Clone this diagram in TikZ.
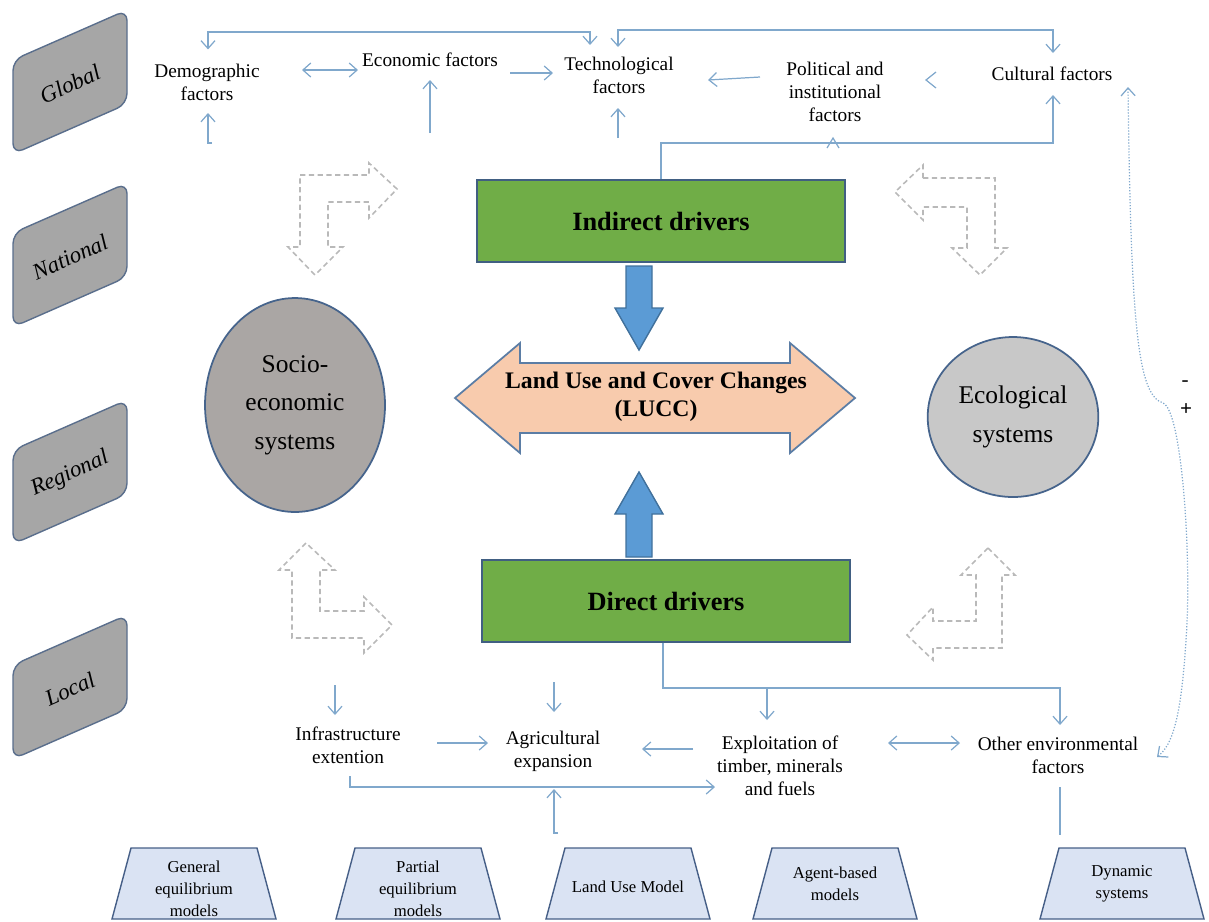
\documentclass[tikz,border=0pt]{standalone}
\usepackage{fontspec}
\setmainfont{Liberation Serif}
\usetikzlibrary{arrows.meta,shapes.geometric}

\definecolor{linkblue}{RGB}{128,168,204}
\definecolor{levelgray}{RGB}{166,166,166}
\definecolor{levelborder}{RGB}{90,110,140}
\definecolor{drvgreen}{RGB}{112,173,71}
\definecolor{drvborder}{RGB}{65,95,130}
\definecolor{luccfill}{RGB}{248,203,173}
\definecolor{luccborder}{RGB}{91,125,165}
\definecolor{arrowblue}{RGB}{91,155,213}
\definecolor{arrowborder}{RGB}{65,113,156}
\definecolor{sociofill}{RGB}{170,166,164}
\definecolor{ecofill}{RGB}{200,200,200}
\definecolor{sysborder}{RGB}{70,100,140}
\definecolor{modelfill}{RGB}{218,227,243}
\definecolor{modelborder}{RGB}{70,95,135}

\begin{document}
\begin{tikzpicture}[x=0.02cm, y=-0.02cm,
    link/.style={draw=linkblue, line width=0.7pt, >={Straight Barb[length=4.5pt,width=8pt]}},
    factor/.style={font=\fontsize{11}{13}\selectfont, align=center, inner sep=0pt},
    driver/.style={draw=drvborder, fill=drvgreen, line width=0.8pt, minimum width=7.36cm,
      minimum height=1.64cm, font=\fontsize{15}{17}\selectfont\bfseries},
    system/.style={ellipse, draw=sysborder, line width=1pt, align=center, font=\fontsize{14.5}{22}\selectfont},
    level/.style={fill=levelgray, draw=levelborder, line width=0.8pt, rounded corners=6pt},
    leveltext/.style={font=\fontsize{13}{15}\selectfont\itshape, rotate=24},
    bent/.style={draw=gray!55, line width=0.9pt, dash pattern=on 3pt off 2pt},
    block/.style={fill=arrowblue, draw=arrowborder, line width=0.8pt},
    modelshape/.style={fill=modelfill, draw=modelborder, line width=0.8pt},
    model/.style={font=\fontsize{9.5}{12.5}\selectfont, align=center}]
  \useasboundingbox (0,0) rectangle (1209,921);

  % Scale of the drivers
  \draw[level] (13,60) -- (127,10) -- (127,104) -- (13,154) -- cycle;
  \draw[level] (13,233) -- (127,183) -- (127,277) -- (13,327) -- cycle;
  \draw[level] (13,450) -- (127,400) -- (127,494) -- (13,544) -- cycle;
  \draw[level] (13,665) -- (127,615) -- (127,709) -- (13,759) -- cycle;
  \node[leveltext] (global) at (70,84) {Global};
  \node[leveltext] (national) at (70,257) {National};
  \node[leveltext] (regional) at (70,474) {Regional};
  \node[leveltext] (local) at (70,689) {Local};

  % Indirect factors
  \node[factor] (demo) at (207,82) {Demographic\\factors};
  \node[factor] (econ) at (430,60) {Economic factors};
  \node[factor] (tech) at (619,75) {Technological\\factors};
  \node[factor] (pol) at (835,92) {Political and\\institutional\\factors};
  \node[factor] (cult) at (1052,74) {Cultural factors};

  % Drivers and systems
  \node[driver] (indirect) at (661,221) {Indirect drivers};
  \node[driver] (direct) at (666,601) {Direct drivers};
  \node[system, fill=sociofill, minimum width=3.6cm, minimum height=4.28cm] (socio) at (295,405)
    {Socio-\\economic\\systems};
  \node[system, fill=ecofill, minimum width=3.2cm, minimum height=3.2cm] (eco) at (1013,417)
    {Ecological\\systems};

  % LUCC
  \draw[fill=luccfill, draw=luccborder, line width=1pt] (455,398) -- (520,343) -- (520,363)
    -- (790,363) -- (790,343) -- (855,398) -- (790,453) -- (790,433) -- (520,433) -- (520,453) -- cycle;
  \node[font=\fontsize{13.5}{16}\selectfont\bfseries, align=center] (lucc) at (656,397)
    {Land Use and Cover Changes\\(LUCC)};
  \draw[block] (626,266) -- (652,266) -- (652,308) -- (663,308) -- (639,350) -- (615,308) -- (626,308) -- cycle;
  \draw[block] (626,557) -- (652,557) -- (652,514) -- (663,514) -- (639,472) -- (615,514) -- (626,514) -- cycle;

  % Feedback arrows
  \draw[bent] (300,175) -- (369,175) -- (369,163) -- (397,189) -- (369,218) -- (369,202) -- (328,202)
    -- (328,247) -- (343,247) -- (315,275) -- (288,247) -- (300,247) -- cycle;
  \draw[bent] (923,178) -- (995,178) -- (995,248) -- (1007,248) -- (980,275) -- (952,248) -- (967,248)
    -- (967,207) -- (923,207) -- (923,220) -- (895,192) -- (923,165) -- cycle;
  \draw[bent] (306,543) -- (279,570) -- (292,570) -- (292,638) -- (364,638) -- (364,653) -- (392,625)
    -- (364,597) -- (364,611) -- (320,611) -- (320,570) -- (335,570) -- cycle;
  \draw[bent] (988,548) -- (1015,575) -- (1002,575) -- (1002,648) -- (933,648) -- (933,660) -- (907,635)
    -- (933,607) -- (933,621) -- (976,621) -- (976,575) -- (961,575) -- cycle;

  % Links between the indirect factors
  \draw[link, <->] (demo.north) ++(1,-14) -- (208,32) -- (590,32) -- (590,45);
  \draw[link, <->] (618,47) -- (618,30) -- (1053,30) -- (1053,53);
  \draw[link, <->] (302,70) -- (358,70);
  \draw[link, ->] (510,73) -- (553,73);
  \draw[link, ->] (760,77) -- (708,80);
  \draw[link] (936,72) -- (926,80) -- (936,88);
  \draw[link, ->] (212,143) -- (208,143) -- (208,113);
  \draw[link, ->] (430,133) -- (430,80);
  \draw[link, ->] (618,138) -- (618,108);
  \draw[link, ->] (indirect.north) -- (661,143) -- (1053,143) -- (1053,95);
  \draw[link] (827,148) -- (833,138) -- (839,148);

  % Direct factors
  \node[factor] (infra) at (348,745) {Infrastructure\\extention};
  \node[factor] (agri) at (553,751) {Agricultural\\expansion};
  \node[factor] (expl) at (780,766) {Exploitation of\\timber, minerals\\and fuels};
  \node[factor] (other) at (1058,755) {Other environmental\\factors};

  \draw[link, ->] (335,685) -- (335,715);
  \draw[link, ->] (554,682) -- (554,712);
  \draw[link, ->] (437,743) -- (488,743);
  \draw[link, ->] (693,749) -- (642,749);
  \draw[link, ->] (350,776) -- (350,787) -- (715,787);
  \draw[link, ->] (558,833) -- (554,833) -- (554,789);
  \draw[link, ->] (direct.south -| 663,0) -- (663,688) -- (1060,688) -- (1060,725);
  \draw[link, ->] (767,688) -- (767,720);
  \draw[link, <->] (888,743) -- (960,743);
  \draw[link] (1060,787) -- (1060,835);

  % Feedback between the scales
  \draw[link, densely dotted, <->] (1128,87) .. controls (1131,330) and (1138,395) .. (1163,403)
    .. controls (1182,410) and (1192,560) .. (1186,640) .. controls (1181,720) and (1172,745) .. (1157,757);
  \node[font=\fontsize{12}{14}\selectfont] (minus) at (1185,384) {-};
  \node[font=\fontsize{12}{14}\selectfont\bfseries] (plus) at (1186,410) {+};

  % Models
  \draw[modelshape] (131,848) -- (257,848) -- (276,919) -- (112,919) -- cycle;
  \draw[modelshape] (355,848) -- (481,848) -- (500,919) -- (336,919) -- cycle;
  \draw[modelshape] (565,848) -- (691,848) -- (710,919) -- (546,919) -- cycle;
  \draw[modelshape] (772,848) -- (898,848) -- (917,919) -- (753,919) -- cycle;
  \draw[modelshape] (1059,848) -- (1185,848) -- (1204,919) -- (1040,919) -- cycle;
  \node[model] (general) at (194,889) {General\\equilibrium\\models};
  \node[model] (partial) at (418,889) {Partial\\equilibrium\\models};
  \node[model] (lum) at (628,887) {Land Use Model};
  \node[model] (agent) at (835,884) {Agent-based\\models};
  \node[model] (dynamic) at (1122,884) {Dynamic\\systems};
\end{tikzpicture}
\end{document}
